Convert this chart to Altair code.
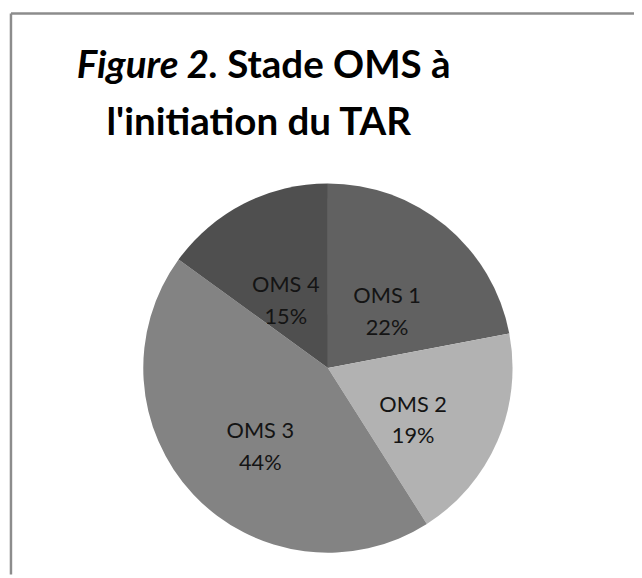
import altair as alt
import pandas as pd

categories = ["OMS 1", "OMS 2", "OMS 3", "OMS 4"]
values = [22, 19, 44, 15]
colors = ["#616161", "#b2b2b2", "#838383", "#4f4f4f"]
title_italic = "Figure 2."
title_rest = "Stade OMS à"
title_line2 = "l'initiation du TAR"

df = pd.DataFrame({
    "cat": categories,
    "val": values,
    "order": list(range(len(categories))),
    "label": [f"{c}\n{v}%" for c, v in zip(categories, values)],
})

W, H = 634, 570
CX, CY, R = 324, 361, 187
FONT = "Lato"
TS = 39

base = alt.Chart(df).encode(
    theta=alt.Theta("val:Q", stack=True),
    order=alt.Order("order:Q"),
)

pie = base.mark_arc(outerRadius=R).encode(
    x=alt.value(CX), y=alt.value(CY),
    color=alt.Color("cat:N", scale=alt.Scale(domain=categories, range=colors), legend=None),
)

labels = base.mark_text(
    radius=94, font=FONT, fontSize=22, lineHeight=32, lineBreak="\n",
    color="#141414", baseline="middle", align="center",
).encode(x=alt.value(CX), y=alt.value(CY), text="label:N")

one = alt.Chart(pd.DataFrame({"a": [0]}))

t1a = one.mark_text(font=FONT, fontSize=TS, fontWeight="bold", fontStyle="italic",
                    align="right", baseline="alphabetic", color="#000000").encode(
    x=alt.value(213), y=alt.value(67), text=alt.value(title_italic))
t1b = one.mark_text(font=FONT, fontSize=TS, fontWeight="bold",
                    align="left", baseline="alphabetic", color="#000000").encode(
    x=alt.value(222), y=alt.value(67), text=alt.value(title_rest))
t2 = one.mark_text(font=FONT, fontSize=TS, fontWeight="bold",
                   align="center", baseline="alphabetic", color="#000000").encode(
    x=alt.value(254), y=alt.value(125), text=alt.value(title_line2))

frame_top = one.mark_rule(color="#8c8c8c", strokeWidth=2.5).encode(
    x=alt.value(3), x2=alt.value(W), y=alt.value(2))
frame_left = one.mark_rule(color="#8c8c8c", strokeWidth=2.5).encode(
    x=alt.value(3), y=alt.value(2), y2=alt.value(H))

chart = alt.layer(pie, labels, t1a, t1b, t2, frame_top, frame_left).properties(
    width=W, height=H, autosize=alt.AutoSizeParams(type="none"), padding=0,
).configure_view(stroke=None)

chart.save("out.html", embed_options={"renderer": "svg", "actions": False})
